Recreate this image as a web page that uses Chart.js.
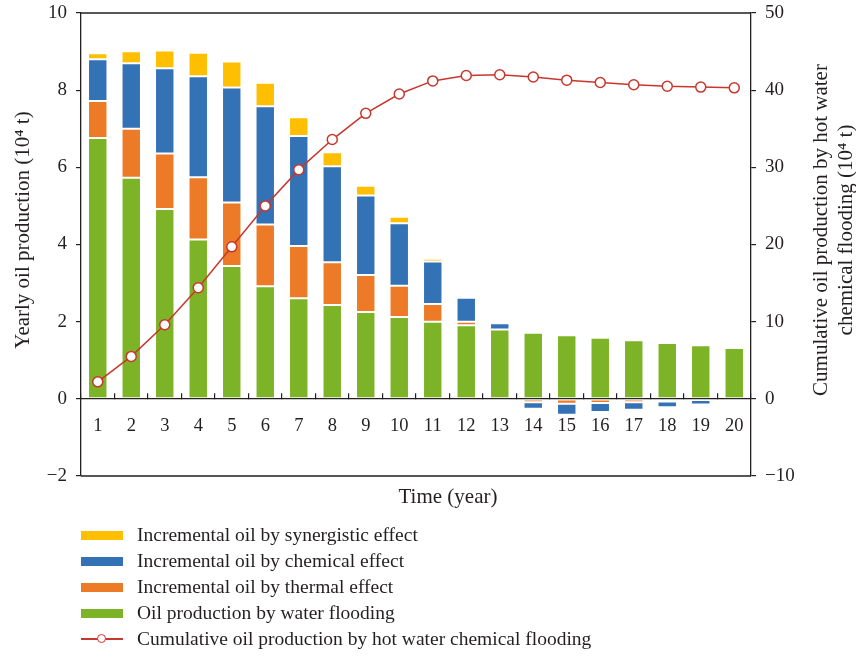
<!DOCTYPE html>
<html>
<head>
<meta charset="utf-8">
<script src="https://cdn.jsdelivr.net/npm/chart.js@4.4.1/dist/chart.umd.min.js"></script>
<style>
  html, body { margin: 0; padding: 0; background: #ffffff; }
  #wrap { position: relative; width: 856px; height: 657px; }
  #legend {
    position: absolute; left: 81px; top: 522px;
    font: 19.5px "Liberation Serif", "DejaVu Serif", serif; color: #231f20;
  }
  .row { display: flex; align-items: center; height: 26px; white-space: nowrap; }
  .sw { width: 42px; height: 9px; margin-right: 14px; position: relative; flex: none; }
  .sw.line::before {
    content: ""; position: absolute; left: 0; right: 0; top: 3.5px; height: 1.5px; background: var(--c);
  }
  .sw.line::after {
    content: ""; position: absolute; left: 16px; top: -0.5px; width: 7px; height: 7px;
    border: 1.5px solid var(--c); border-radius: 50%; background: #fff;
  }
</style>
</head>
<body>
<div id="wrap">
  <canvas id="c"></canvas>
  <div id="legend"></div>
</div>
<script>
// Years of the forecast period
const years = ['1','2','3','4','5','6','7','8','9','10','11','12','13','14','15','16','17','18','19','20'];

// Yearly oil production components (10^4 t)
const waterFlooding = [6.76, 5.73, 4.92, 4.13, 3.44, 2.92, 2.61, 2.43, 2.25, 2.12, 2.00, 1.91, 1.80, 1.71, 1.65, 1.58, 1.52, 1.45, 1.39, 1.32];
const thermalEffect = [0.96, 1.27, 1.44, 1.61, 1.65, 1.60, 1.35, 1.11, 0.96, 0.81, 0.46, 0.09, -0.04, -0.09, -0.13, -0.11, -0.09, -0.07, -0.03, 0.00];
const chemicalEffect = [1.08, 1.70, 2.21, 2.62, 2.98, 3.06, 2.85, 2.49, 2.06, 1.62, 1.10, 0.62, 0.16, -0.17, -0.28, -0.23, -0.19, -0.15, -0.12, -0.06];
const synergisticEffect = [0.16, 0.31, 0.46, 0.61, 0.67, 0.61, 0.49, 0.36, 0.25, 0.17, 0.07, 0.03, 0, 0, 0, 0, 0, 0, 0, 0];

// Cumulative production by hot water chemical flooding (10^4 t)
const cumulative = [2.2, 5.5, 9.6, 14.4, 19.7, 25.0, 29.7, 33.6, 37.0, 39.5, 41.2, 41.9, 42.0, 41.7, 41.3, 41.0, 40.7, 40.5, 40.4, 40.3];

// Axis tick values
const leftTicks = [-2, 0, 2, 4, 6, 8, 10];
const rightTicks = [-10, 0, 10, 20, 30, 40, 50];

const SERIF = '"Liberation Serif", "DejaVu Serif", serif';
const INK = '#231f20';
const RED = '#c8372d';

const barStyle = (color) => ({
  backgroundColor: color,
  borderColor: 'rgba(255,255,255,0.3)',
  borderWidth: 1,
  borderSkipped: false,
  barPercentage: 0.58,
  categoryPercentage: 1.0,
  stack: 'oil',
  yAxisID: 'y',
  order: 1
});

const datasets = [
  { label: 'Oil production by water flooding', data: waterFlooding, ...barStyle('#7cb327') },
  { label: 'Incremental oil by thermal effect', data: thermalEffect, ...barStyle('#ed7a26') },
  { label: 'Incremental oil by chemical effect', data: chemicalEffect, ...barStyle('#3472b6') },
  { label: 'Incremental oil by synergistic effect', data: synergisticEffect, ...barStyle('#fdbf00') },
  {
    type: 'line',
    label: 'Cumulative oil production by hot water chemical flooding',
    data: cumulative,
    yAxisID: 'y1',
    borderColor: RED,
    borderWidth: 1.5,
    pointRadius: 5,
    pointBackgroundColor: '#ffffff',
    pointBorderColor: RED,
    pointBorderWidth: 1.5,
    tension: 0,
    order: 0
  }
];

// Frame lines and axis titles
const decorations = {
  id: 'decorations',
  afterDraw(chart) {
    const { ctx, chartArea: a } = chart;
    ctx.save();
    ctx.strokeStyle = INK;
    ctx.lineWidth = 1.3;
    ctx.beginPath();
    ctx.moveTo(a.left, a.top); ctx.lineTo(a.right, a.top);
    ctx.moveTo(a.left, a.bottom); ctx.lineTo(a.right, a.bottom);
    ctx.stroke();

    ctx.fillStyle = INK;
    ctx.font = '21px ' + SERIF;
    ctx.textAlign = 'center';
    ctx.textBaseline = 'middle';
    ctx.fillText('Time (year)', a.left + 367, a.bottom + 21);

    const midY = a.top + 217;
    ctx.save();
    ctx.translate(a.left - 58, midY);
    ctx.rotate(-Math.PI / 2);
    ctx.fillText('Yearly oil production (10\u2074 t)', 0, 0);
    ctx.restore();

    ctx.save();
    ctx.translate(a.right + 70, midY);
    ctx.rotate(-Math.PI / 2);
    ctx.fillText('Cumulative oil production by hot water', 0, 0);
    ctx.fillText('chemical flooding (10\u2074 t)', 0, 25);
    ctx.restore();
    ctx.restore();
  }
};

const minus = (v) => String(v).replace('-', '\u2212');

// Fixed-width side axes; the layout padding alone sets the plot's top and bottom
const fixAxis = (width) => (s) => {
  s.width = width;
  s.paddingTop = 0;
  s.paddingBottom = 0;
};

const chart = new Chart(document.getElementById('c'), {
  type: 'bar',
  data: { labels: years, datasets },
  plugins: [decorations],
  options: {
    responsive: true,
    maintainAspectRatio: false,
    animation: false,
    layout: { padding: { top: 13, bottom: 181, left: 0, right: 0 } },
    plugins: { legend: { display: false }, tooltip: { enabled: false } },
    scales: {
      x: {
        type: 'category',
        position: { y: 0 },
        stacked: true,
        grid: { offset: true, drawOnChartArea: false, tickLength: -6, color: INK, lineWidth: 1.2 },
        border: { display: true, color: INK, width: 1.3 },
        ticks: { color: INK, font: { family: SERIF, size: 18.5 }, padding: 22, maxRotation: 0, autoSkip: false }
      },
      y: {
        position: 'left',
        stacked: true,
        min: -2, max: 10,
        afterBuildTicks: (s) => { s.ticks = leftTicks.map(v => ({ value: v })); },
        afterFit: fixAxis(81),
        grid: { drawOnChartArea: false, tickLength: 5, color: INK, lineWidth: 1.2 },
        border: { display: true, color: INK, width: 1.3 },
        ticks: { color: INK, font: { family: SERIF, size: 19 }, padding: 9, callback: minus }
      },
      y1: {
        position: 'right',
        min: -10, max: 50,
        afterBuildTicks: (s) => { s.ticks = rightTicks.map(v => ({ value: v })); },
        afterFit: fixAxis(105),
        grid: { drawOnChartArea: false, tickLength: 5, color: INK, lineWidth: 1.2 },
        border: { display: true, color: INK, width: 1.3 },
        ticks: { color: INK, font: { family: SERIF, size: 19 }, padding: 9, callback: minus }
      }
    }
  }
});

// Legend listed one entry per row, top to bottom
const legendOrder = [3, 2, 1, 0, 4];
const legendEl = document.getElementById('legend');
legendOrder.forEach((i) => {
  const ds = datasets[i];
  const row = document.createElement('div');
  row.className = 'row';
  const sw = document.createElement('span');
  if (ds.type === 'line') {
    sw.className = 'sw line';
    sw.style.setProperty('--c', ds.borderColor);
  } else {
    sw.className = 'sw';
    sw.style.background = ds.backgroundColor;
  }
  const tx = document.createElement('span');
  tx.textContent = ds.label;
  row.appendChild(sw);
  row.appendChild(tx);
  legendEl.appendChild(row);
});
</script>
</body>
</html>
